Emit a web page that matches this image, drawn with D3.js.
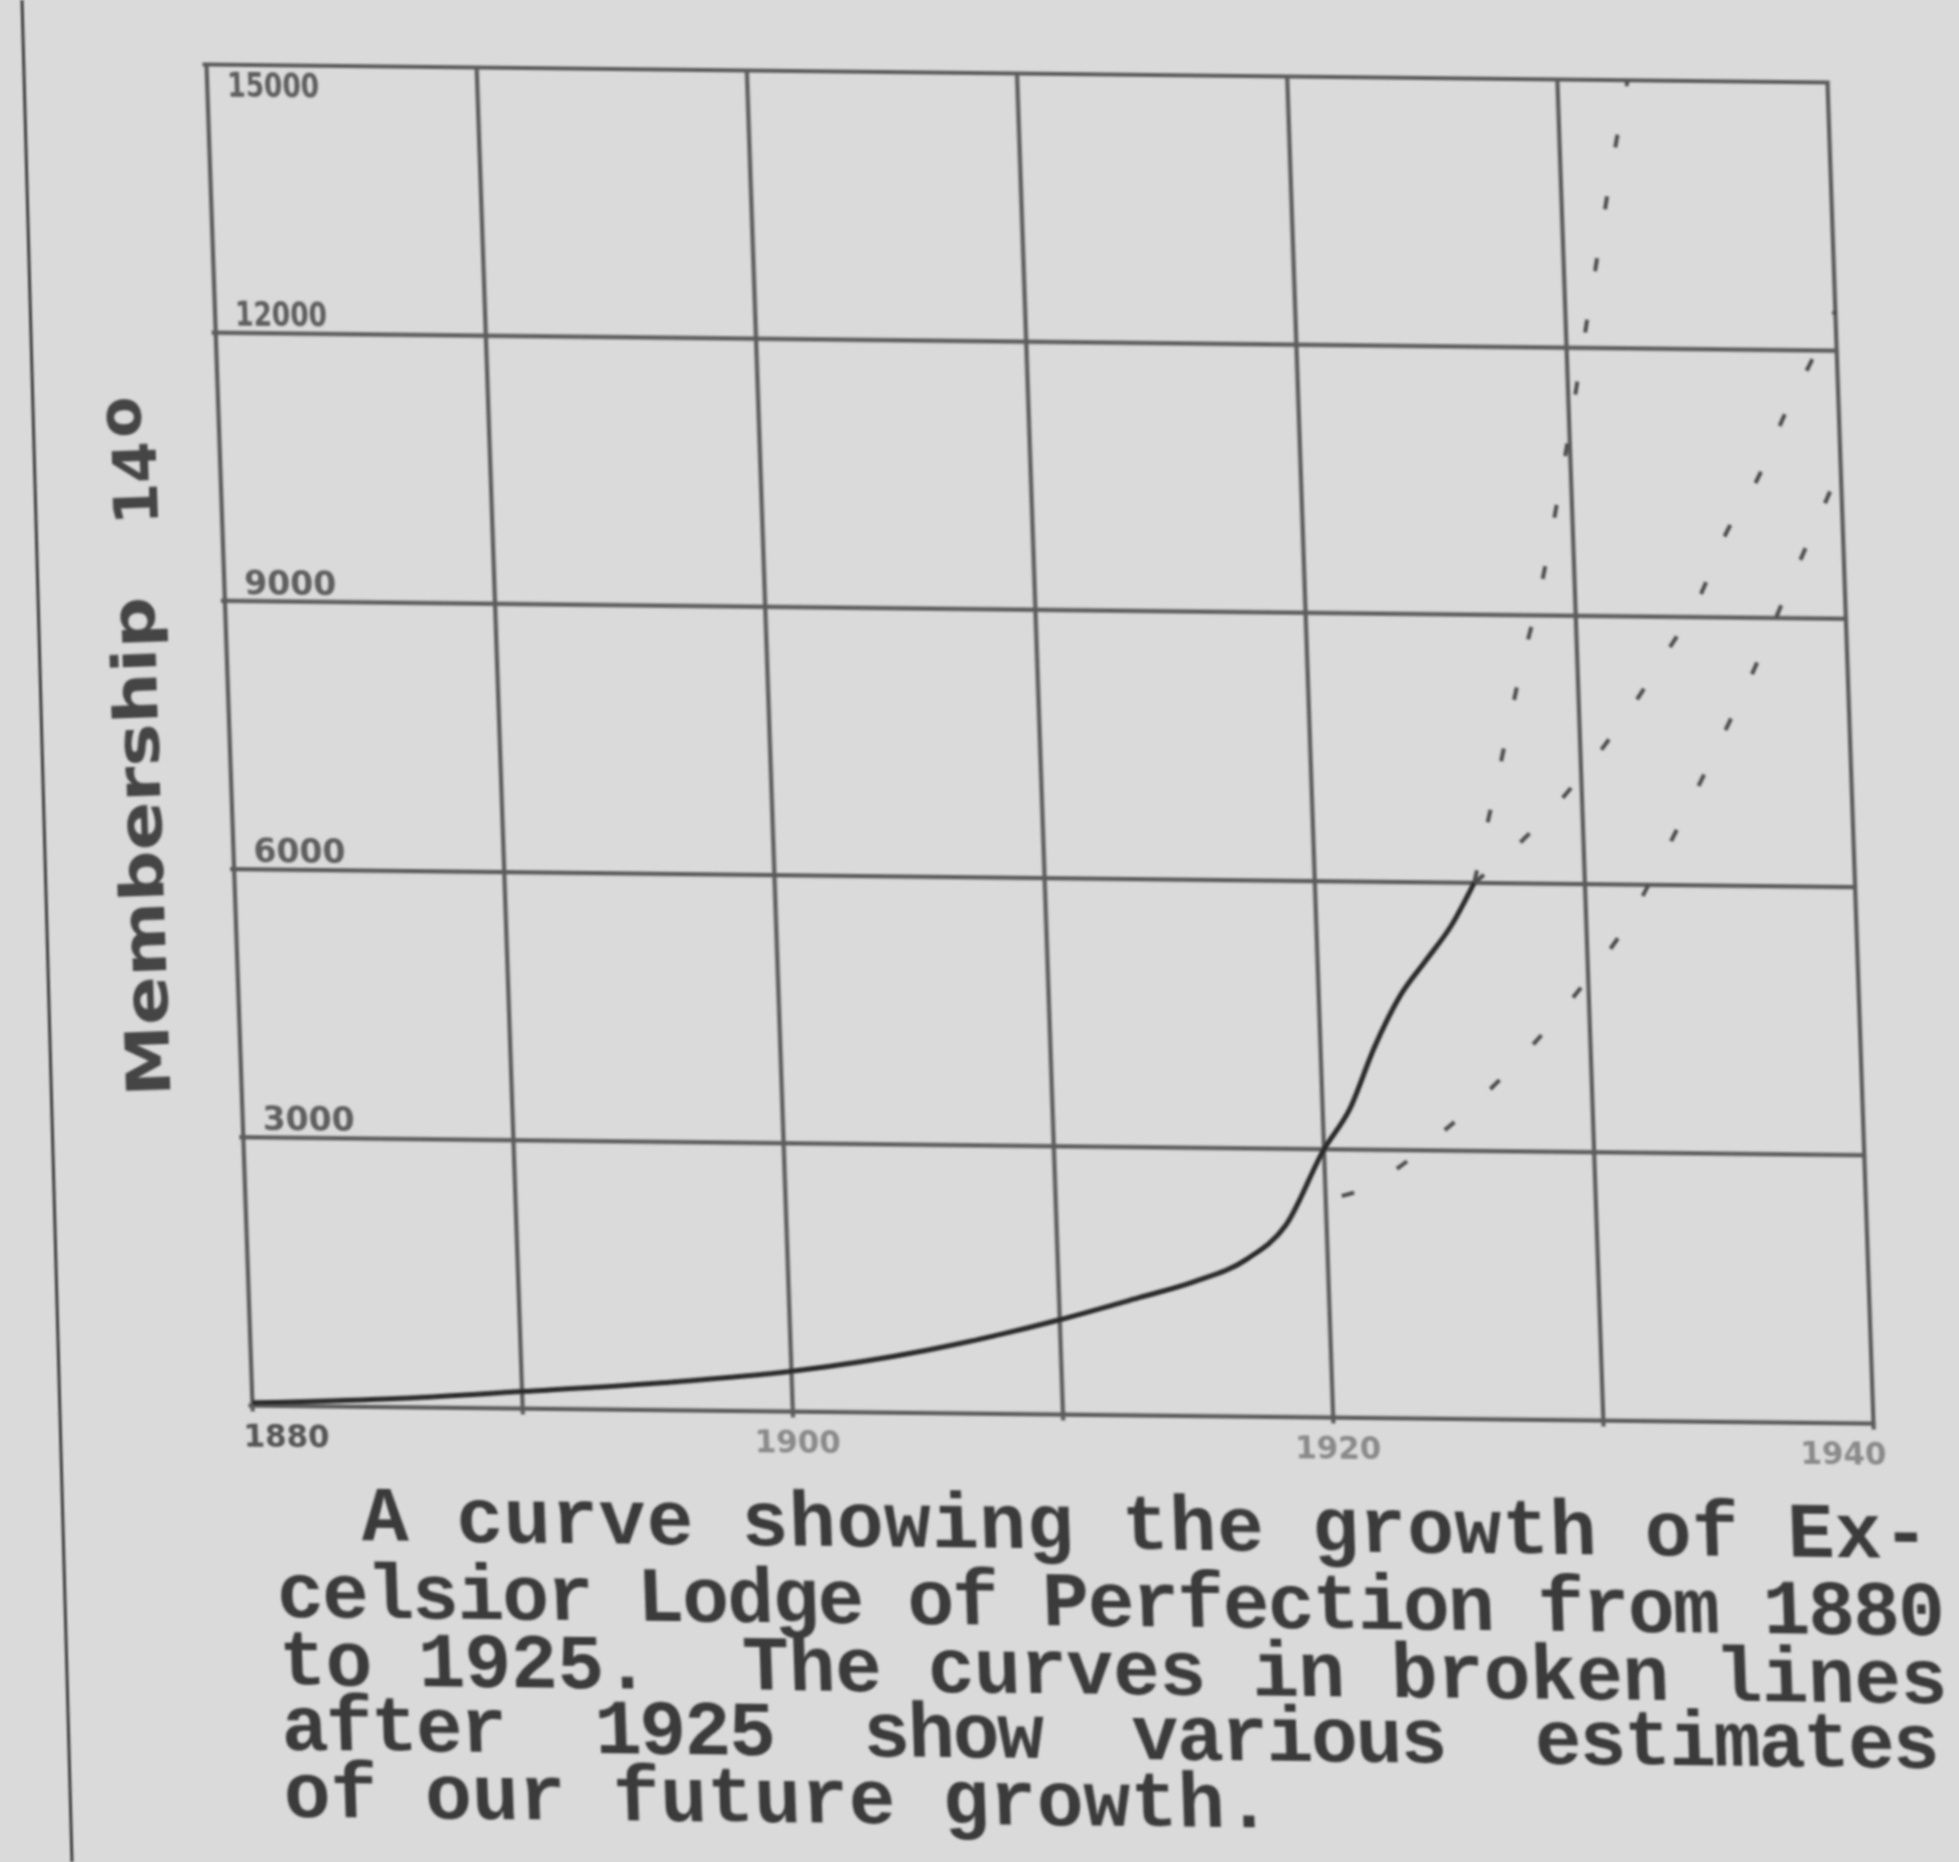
<!DOCTYPE html>
<html><head><meta charset="utf-8">
<script src="https://cdn.jsdelivr.net/npm/d3@7"></script>
<style>html,body{margin:0;padding:0;background:#dadada;} svg{display:block}</style>
</head><body>
<svg id="chart" width="1959" height="1862"></svg>
<script>
// ---------- data ----------
const xTickYears = [1880, 1900, 1920, 1940];
const xGridYears = [1880, 1890, 1900, 1910, 1920, 1930, 1940];
const yGridValues = [0, 3000, 6000, 9000, 12000, 15000];
const yTickValues = [3000, 6000, 9000, 12000, 15000];
const yTickLabels = ["3000", "6000", "9000", "12000", "15000"];

// actual membership 1880-1925 (solid curve)
const actualYears   = [1880, 1885, 1890, 1895, 1900, 1905, 1910, 1913, 1915, 1917, 1918.5, 1920, 1921, 1922, 1923, 1924, 1925, 1925.9];
const actualMembers = [30,   90,   190,  300,  450,  700,  1060, 1320, 1500, 1760, 2150,   3000, 3450, 4150, 4720, 5120, 5520, 6000];

// estimates after 1925 (broken lines)
const estAYears   = [1925.9, 1926.9, 1928, 1928.7, 1929.8, 1930.9, 1932.4, 1932.6];
const estAMembers = [6000,   7180,   8510, 9260,   10770,  12470,  14730,  15000];

const estBYears   = [1925.9, 1927.2, 1928.7, 1930.5, 1932, 1933.2, 1934.6, 1935.6, 1937, 1937.9, 1939.1, 1940];
const estBMembers = [6000,   6330,   6770,   7400,   8000, 8550,   9220,   9900,   10610, 11220, 11910,  12450];

const estCYears   = [1920.6, 1921.1, 1924.5, 1929, 1930.3, 1931.6, 1932.5, 1935.5, 1936.5, 1937.9, 1940];
const estCMembers = [2480,   2525,   3230,   4580, 5060,   5600,   6080,   7800,   8400,   9330,   10700];

const captionLines = [
  "A curve showing the growth of Ex-",
  "celsior Lodge of Perfection from 1880",
  "to 1925.  The curves in broken lines",
  "after  1925  show  various  estimates",
  "of our future growth."
];
const yTitle = "Membership";
const pageNumber = "14";
const pageNumberSup = "o";

// ---------- drawing ----------
const svg = d3.select("#chart");
const W = 1621, H = 1341;
const skew = `matrix(1,${18/W},${46/H},1,206.5,64.5)`;

const defs = svg.append("defs");
defs.append("filter").attr("id", "soft").attr("x", "-5%").attr("y", "-5%").attr("width", "110%").attr("height", "110%")
  .append("feGaussianBlur").attr("stdDeviation", 0.9);
defs.append("clipPath").attr("id", "plotclip")
  .append("rect").attr("x", -5).attr("y", 0).attr("width", W + 10).attr("height", H + 5);

svg.append("rect").attr("width", 1959).attr("height", 1862).attr("fill", "#dadada");

const root = svg.append("g").attr("filter", "url(#soft)");

// left page rule
root.append("line").attr("x1", 22).attr("y1", 0).attr("x2", 72).attr("y2", 1862)
  .attr("stroke", "#3c3c3c").attr("stroke-width", 3);

const x = d3.scaleLinear().domain([1880, 1940]).range([0, W]);
const y = d3.scaleLinear().domain([0, 15000]).range([H, 0]);

const g = root.append("g").attr("transform", skew);

// grid
g.selectAll("line.v").data(xGridYears).join("line").attr("class", "v")
  .attr("x1", d => x(d)).attr("x2", d => x(d))
  .attr("y1", y(15000) - 2).attr("y2", y(0) + 6)
  .attr("stroke", "#5c5c5c").attr("stroke-width", 4.2);
g.selectAll("line.h").data(yGridValues).join("line").attr("class", "h")
  .attr("x1", x(1880) - 4).attr("x2", x(1940) + 2)
  .attr("y1", d => y(d)).attr("y2", d => y(d))
  .attr("stroke", "#5c5c5c").attr("stroke-width", 4.2);

// y tick labels
g.selectAll("text.yl").data(yTickValues).join("text").attr("class", "yl")
  .attr("x", 20)
  .attr("y", d => d === 15000 ? y(d) + 32 : y(d) - 7)
  .attr("font-family", "DejaVu Sans").attr("font-weight", "bold").attr("font-size", 34)
  .attr("textLength", 92).attr("lengthAdjust", "spacingAndGlyphs")
  .attr("fill", "#5e5e5e")
  .text((d, i) => yTickLabels[i]);

// x tick labels
g.selectAll("text.xl").data(xTickYears).join("text").attr("class", "xl")
  .attr("x", (d, i) => i === 0 ? x(d) - 10 : (i === xTickYears.length - 1 ? x(d) + 12 : x(d) + 4))
  .attr("y", y(0) + 41)
  .attr("text-anchor", (d, i) => i === 0 ? "start" : (i === xTickYears.length - 1 ? "end" : "middle"))
  .attr("font-family", "DejaVu Sans").attr("font-weight", "bold").attr("font-size", 32)
  .attr("textLength", 86).attr("lengthAdjust", "spacingAndGlyphs")
  .attr("fill", (d, i) => i === 0 ? "#555" : "#8a8a8a")
  .text(d => d);

// curves
const line = d3.line().x(d => x(d[0])).y(d => y(d[1])).curve(d3.curveMonotoneX);
const zip = (a, b) => a.map((v, i) => [v, b[i]]);

const plot = g.append("g").attr("clip-path", "url(#plotclip)");
[[estAYears, estAMembers], [estBYears, estBMembers], [estCYears, estCMembers]].forEach(([ys, ms]) => {
  plot.append("path").attr("d", line(zip(ys, ms)))
    .attr("fill", "none").attr("stroke", "#4e4e4e").attr("stroke-width", 4)
    .attr("stroke-dasharray", "13 50");
});
plot.append("path").attr("d", line(zip(actualYears, actualMembers)))
  .attr("fill", "none").attr("stroke", "#2c2c2c").attr("stroke-width", 5);

// caption
const capX = [105, 18, 18, 18, 18];
const capY = [1475, 1552, 1620, 1685, 1752];
const capW = [1568, 1668, 1668, 1658, 988];
g.selectAll("text.cap").data(captionLines).join("text").attr("class", "cap")
  .attr("x", (d, i) => capX[i]).attr("y", (d, i) => capY[i])
  .attr("textLength", (d, i) => capW[i]).attr("lengthAdjust", "spacing")
  .attr("font-family", "Liberation Mono").attr("font-weight", "bold").attr("font-size", 78)
  .attr("fill", "#3a3a3a")
  .style("white-space", "pre").attr("xml:space", "preserve")
  .text(d => d);

// y title
root.append("text")
  .attr("transform", "translate(162,846) rotate(-91.95)")
  .attr("text-anchor", "middle")
  .attr("font-family", "DejaVu Sans").attr("font-weight", "bold").attr("font-size", 60)
  .attr("textLength", 500).attr("lengthAdjust", "spacingAndGlyphs")
  .attr("fill", "#444")
  .text(yTitle);
const pn = root.append("text")
  .attr("transform", "translate(156,460) rotate(-91.95)")
  .attr("text-anchor", "middle")
  .attr("font-family", "DejaVu Sans").attr("font-weight", "bold").attr("font-size", 60)
  .attr("fill", "#444");
pn.append("tspan").text(pageNumber);
pn.append("tspan").attr("dx", 4).attr("dy", -14).text(pageNumberSup);
</script>
</body></html>
